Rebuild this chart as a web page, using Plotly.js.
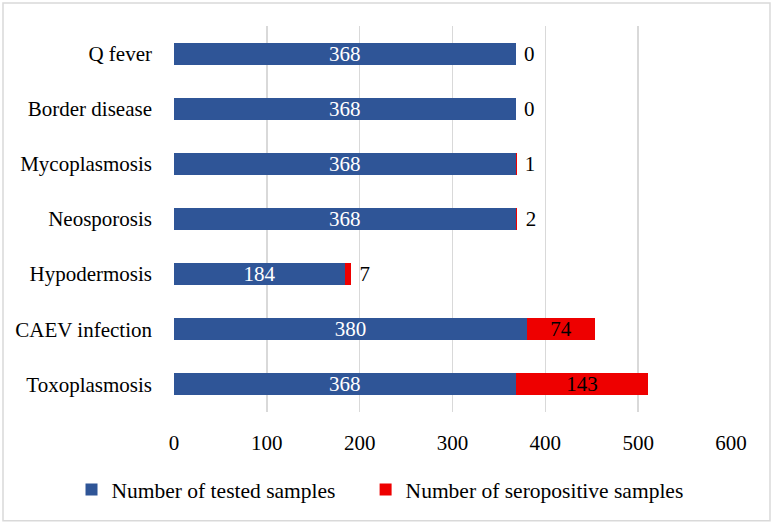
<!DOCTYPE html>
<html>
<head>
<meta charset="utf-8">
<script src="https://cdn.plot.ly/plotly-3.0.1.min.js"></script>
<style>
  html, body { margin: 0; padding: 0; background: #ffffff; }
  #chart { width: 773px; height: 525px; }
</style>
</head>
<body>
<div id="chart"></div>
<script>
// Data (bottom to top, as drawn on the category axis)
const categories = ["Toxoplasmosis", "CAEV infection", "Hypodermosis", "Neosporosis", "Mycoplasmosis", "Border disease", "Q fever"];
const testedSamples = [368, 380, 184, 368, 368, 368, 368];
const seropositiveSamples = [143, 74, 7, 2, 1, 0, 0];
const xTickValues = [0, 100, 200, 300, 400, 500, 600];
const seriesNames = ["Number of tested samples", "Number of seropositive samples"];

const FONT = "'Liberation Serif', 'Times New Roman', serif";
const BLUE = "#2F5597";
const RED = "#EE0000";

const redPositions = seropositiveSamples.map(v => v >= 20 ? "inside" : "outside");
const redTexts = seropositiveSamples.map((v, i) => redPositions[i] === "outside" ? "\u00a0" + v : String(v));

const traces = [
  {
    type: "bar",
    orientation: "h",
    name: seriesNames[0],
    legend: "legend",
    y: categories,
    x: testedSamples,
    marker: { color: BLUE },
    text: testedSamples.map(String),
    textposition: "inside",
    insidetextanchor: "middle",
    textangle: 0,
    textfont: { family: FONT, size: 21, color: "#ffffff" },
    constraintext: "none",
    cliponaxis: false,
    hoverinfo: "x+y"
  },
  {
    type: "bar",
    orientation: "h",
    name: seriesNames[1],
    legend: "legend2",
    y: categories,
    x: seropositiveSamples,
    marker: { color: RED },
    text: redTexts,
    textposition: redPositions,
    insidetextanchor: "middle",
    textangle: 0,
    textfont: { family: FONT, size: 21, color: "#000000" },
    insidetextfont: { family: FONT, size: 21, color: "#000000" },
    outsidetextfont: { family: FONT, size: 21, color: "#000000" },
    constraintext: "none",
    cliponaxis: false,
    hoverinfo: "x+y"
  }
];

const legendCommon = {
  orientation: "h",
  xanchor: "left",
  y: -0.148,
  yanchor: "top",
  font: { family: FONT, size: 21.5, color: "#000000" },
  bgcolor: "rgba(0,0,0,0)"
};

const layout = {
  width: 773,
  height: 525,
  margin: { l: 174, r: 42, t: 26, b: 113, autoexpand: false },
  paper_bgcolor: "#ffffff",
  plot_bgcolor: "#ffffff",
  barmode: "stack",
  bargap: 0.6,
  font: { family: FONT, size: 21, color: "#000000" },
  showlegend: true,
  legend: Object.assign({}, legendCommon, { x: -0.184 }),
  legend2: Object.assign({}, legendCommon, { x: 0.344 }),
  xaxis: {
    range: [0, 600],
    tickvals: xTickValues,
    ticktext: xTickValues.map(String),
    showgrid: true,
    gridcolor: "#D9D9D9",
    gridwidth: 1.5,
    zeroline: false,
    showline: false,
    ticks: "",
    ticklabelstandoff: 16,
    tickfont: { family: FONT, size: 21, color: "#000000" },
    fixedrange: true
  },
  yaxis: {
    type: "category",
    categoryorder: "array",
    categoryarray: categories,
    showgrid: false,
    zeroline: false,
    showline: false,
    ticks: "",
    ticklabelstandoff: 21,
    tickfont: { family: FONT, size: 21, color: "#000000" },
    fixedrange: true
  },
  shapes: [
    {
      type: "rect",
      xref: "paper", yref: "paper",
      x0: -0.307, x1: 1.070,
      y0: -0.282, y1: 1.0596,
      line: { color: "#D9D9D9", width: 1.5 },
      fillcolor: "rgba(0,0,0,0)",
      layer: "below"
    }
  ]
};

Plotly.newPlot("chart", traces, layout, { displayModeBar: false, staticPlot: true });
</script>
</body>
</html>
